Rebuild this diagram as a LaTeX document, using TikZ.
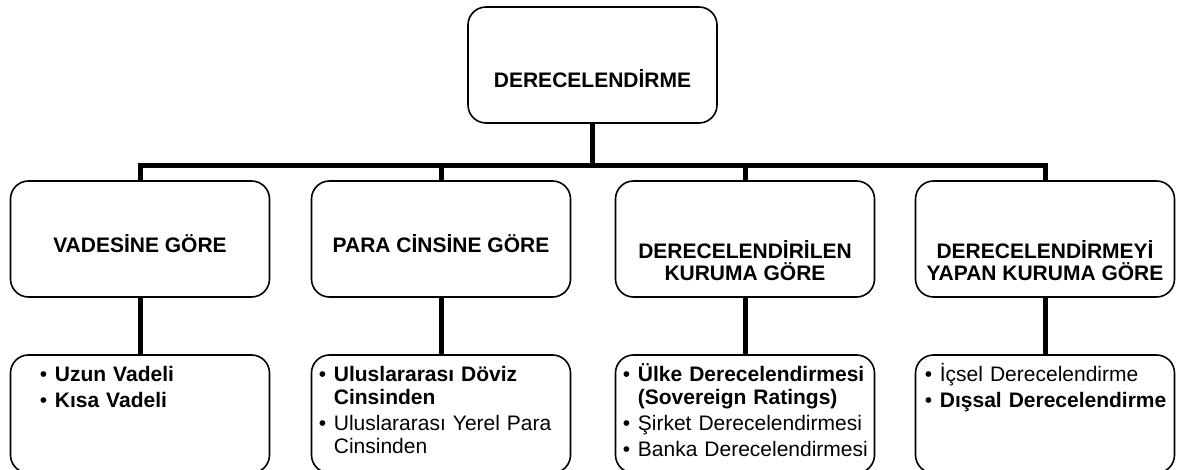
\documentclass[tikz,border=0pt]{standalone}
\usepackage{fontspec}
\setmainfont{Liberation Sans}
\usetikzlibrary{positioning}

\newcommand{\itm}[1]{\hangindent=15pt\hangafter=1\noindent\makebox[15pt][l]{\textbullet}#1\par}

\begin{document}
\begin{tikzpicture}[
  x=1pt, y=-1pt,
  every node/.style={font=\fontsize{21pt}{23pt}\selectfont},
  box/.style={draw, rounded corners=18pt, line width=1.6pt, fill=white, inner sep=0pt},
  headbox/.style={box, minimum width=259pt, minimum height=116pt},
  listbox/.style={box, minimum width=259pt, minimum height=118pt},
  headtext/.style={align=center, anchor=base, inner sep=0pt,
    font=\fontsize{21pt}{22pt}\selectfont\bfseries},
  listtext/.style={text width=245pt, align=left, anchor=base west, inner sep=0pt,
    execute at begin node={\setlength{\parskip}{3pt}}},
  link/.style={line width=5pt},
  ]
  \useasboundingbox (0,0) rectangle (1177,470);
  \clip (0,0) rectangle (1177,470);

  \node[headbox, minimum width=249pt] (top) at (592.5,65) {};
  \node[headtext] at ([yshift=-23pt]top.center) {DERECELENDİRME};

  \node[headbox] (k1) at (140,239) {};
  \node[headbox] (k2) at (441,239) {};
  \node[headbox] (k3) at (745,239) {};
  \node[headbox] (k4) at (1045,239) {};
  \node[headtext] at ([yshift=-14pt]k1.center) {VADESİNE GÖRE};
  \node[headtext] at ([yshift=-14pt]k2.center) {PARA CİNSİNE GÖRE};
  \node[headtext] at ([yshift=-41pt]k3.center) {DERECELENDİRİLEN\\KURUMA GÖRE};
  \node[headtext] at ([yshift=-41pt]k4.center) {DERECELENDİRMEYİ\\YAPAN KURUMA GÖRE};

  \node[listbox] (l1) at (140,414) {};
  \node[listbox] (l2) at (441,414) {};
  \node[listbox] (l3) at (745,414) {};
  \node[listbox] (l4) at (1045,414) {};
  \node[listtext] at ([xshift=30pt,yshift=-27pt]l1.north west)
    {\itm{\textbf{Uzun Vadeli}}\itm{\textbf{Kısa Vadeli}}};
  \node[listtext] at ([xshift=8pt,yshift=-27pt]l2.north west)
    {\itm{\textbf{Uluslararası Döviz\newline Cinsinden}}\itm{Uluslararası Yerel Para\newline Cinsinden}};
  \node[listtext] at ([xshift=8pt,yshift=-27pt]l3.north west)
    {\itm{\textbf{Ülke Derecelendirmesi\newline (Sovereign Ratings)}}\itm{Şirket Derecelendirmesi}\itm{Banka Derecelendirmesi}};
  \node[listtext] at ([xshift=10pt,yshift=-27pt]l4.north west)
    {\itm{İçsel Derecelendirme}\itm{\textbf{Dışsal Derecelendirme}}};

  \coordinate (hub) at ([yshift=-42pt]top.south);
  \draw[link] (top.south) -- (hub);
  \draw[link] (k1.north) |- (hub) -| (k4.north);
  \foreach \i in {2,3}
    \draw[link] (hub -| k\i.north) -- (k\i.north);
  \foreach \i in {1,...,4}
    \draw[link] (k\i.south) -- (l\i.north);
\end{tikzpicture}
\end{document}
